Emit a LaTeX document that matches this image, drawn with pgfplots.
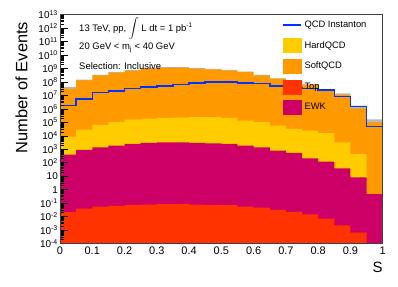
\documentclass[border=0pt]{standalone}
\usepackage{fontspec}
\setmainfont{Liberation Sans}
\usepackage{pgfplots}
\usepackage{pgfplotstable}
\pgfplotsset{compat=1.18}
\usepgfplotslibrary{fillbetween}

\definecolor{cSoft}{RGB}{255,153,0}
\definecolor{cHard}{RGB}{255,204,0}
\definecolor{cTop}{RGB}{255,51,0}
\definecolor{cEWK}{RGB}{204,0,102}
\definecolor{cInst}{RGB}{0,51,255}

% cumulative stack boundaries (soft = total), band = uncertainty on total
\pgfplotstableread{
x    inst     soft     hard    ewk    top      up       lo
0.00 1.795e6  3.162e7  8710    395    0.0220   4.27e7   2.34e7
0.05 5.675e6  1.315e8  29040   887    0.0395   1.51e8   1.145e8
0.10 1.589e7  3.112e8  65010   1409   0.0557   3.33e8   2.90e8
0.15 2.128e7  4.943e8  108900  1858   0.0618   5.30e8   4.61e8
0.20 3.162e7  6.966e8  161800  2489   0.0735   7.46e8   6.50e8
0.25 4.236e7  9.840e8  192300  2951   0.0787   1.054e9  9.18e8
0.30 5.023e7  1.167e9  216800  3327   0.0828   1.250e9  1.089e9
0.35 6.295e7  1.167e9  228000  3327   0.0828   1.250e9  1.089e9
0.40 8.414e7  9.840e8  244300  2951   0.0787   1.054e9  9.18e8
0.45 1.0e8    8.710e8  244300  2805   0.0735   9.33e8   8.13e8
0.50 1.0e8    7.345e8  216800  2489   0.0697   7.87e8   6.85e8
0.55 8.414e7  5.572e8  136100  1858   0.0557   5.97e8   5.20e8
0.60 7.464e7  3.112e8  103500  1409   0.0470   3.33e8   2.90e8
0.65 5.023e7  1.762e8  57680   787    0.0311   1.888e8  1.644e8
0.70 3.758e7  1.250e8  32730   530    0.0220   1.340e8  1.167e8
0.75 3.162e7  6.295e7  24430   213    0.0149   6.75e7   5.87e7
0.80 2.443e7  2.360e7  15630   119    0.0071   2.53e7   2.20e7
0.85 8.279e6  1.127e7  3327    38.2   0.00224  1.419e7  8.95e6
0.90 1.486e6  1.109e6  445.6   8.13   0.00064  1.758e6  7.00e5
0.95 5.02e4   1.0e5    0.47    0.461  1e-5     1.66e5   6.03e4
1.00 5.02e4   1.0e5    0.47    0.461  1e-5     1.66e5   6.03e4
}\data

\begin{document}
\begin{tikzpicture}
\begin{axis}[
  scale only axis, width=322.7bp, height=228.8bp,
  ymode=log, ymin=1e-4, ymax=1e13, xmin=0, xmax=1,
  log origin y=infty,
  axis on top,
  axis line style={draw=black!75, line width=0.5bp},
  xtick={0,0.1,0.2,0.3,0.4,0.5,0.6,0.7,0.8,0.9,1},
  xticklabels={0,0.1,0.2,0.3,0.4,0.5,0.6,0.7,0.8,0.9,1},
  xtick pos=bottom, xtick style={draw=none},
  ytickten={-4,...,13},
  yticklabels={10\textsuperscript{-4},10\textsuperscript{-3},10\textsuperscript{-2},10\textsuperscript{-1},1,10,10\textsuperscript{2},10\textsuperscript{3},10\textsuperscript{4},10\textsuperscript{5},10\textsuperscript{6},10\textsuperscript{7},10\textsuperscript{8},10\textsuperscript{9},10\textsuperscript{10},10\textsuperscript{11},10\textsuperscript{12},10\textsuperscript{13}},
  ytick pos=left,
  ytick style={black, line width=0.5bp},
  major tick length=8bp, minor tick length=4bp,
  x tick label style={font=\fontsize{11}{12}\selectfont},
  y tick label style={font=\fontsize{10}{12}\selectfont, inner sep=2bp},
  xlabel={S}, ylabel={Number of Events},
  xlabel style={font=\fontsize{15}{16}\selectfont, at={(axis description cs:1,-0.08)}, anchor=north east, inner sep=0pt},
  ylabel style={font=\fontsize{16.5}{18}\selectfont, at={(axis description cs:-0.10,0.97)}, anchor=south east, inner sep=0pt},
  legend style={at={(axis description cs:0.688,0.986)}, anchor=north west, draw=none, fill=none,
    inner sep=0pt, outer sep=0pt, row sep=6.3bp, column sep=3bp,
    font=\fontsize{9.4}{11}\selectfont, nodes={inner sep=0pt, outer sep=0pt}},
  legend cell align=left,
]
\addplot[const plot, fill=cSoft, draw=none, forget plot] table[x=x,y=soft]{\data} \closedcycle;
\addplot[const plot, fill=cHard, draw=none, forget plot] table[x=x,y=hard]{\data} \closedcycle;
\addplot[const plot, fill=cEWK, draw=none, forget plot] table[x=x,y=ewk]{\data} \closedcycle;
\addplot[const plot, fill=cTop, draw=none, forget plot] table[x=x,y=top]{\data} \closedcycle;

\addplot[const plot, draw=none, name path=up, forget plot] table[x=x,y=up]{\data};
\addplot[const plot, draw=none, name path=lo, forget plot] table[x=x,y=lo]{\data};
\addplot[fill=black!70, fill opacity=0.4, draw=none, forget plot] fill between[of=up and lo];

\addplot[const plot, draw=cInst, line width=1.5bp, forget plot] table[x=x,y=inst]{\data};

\addlegendimage{legend image code/.code={\path[draw=none,fill=none] (0bp,-7bp) rectangle (18bp,7bp); \draw[cInst, line width=1.5bp] (0bp,0bp) -- (18bp,0bp);}}
\addlegendentry{QCD Instanton}
\addlegendimage{legend image code/.code={\fill[cHard] (0bp,-7bp) rectangle (18bp,7bp);}}
\addlegendentry{HardQCD}
\addlegendimage{legend image code/.code={\fill[cSoft] (0bp,-7bp) rectangle (18bp,7bp);}}
\addlegendentry{SoftQCD}
\addlegendimage{legend image code/.code={\fill[cTop] (0bp,-7bp) rectangle (18bp,7bp);}}
\addlegendentry{Top}
\addlegendimage{legend image code/.code={\fill[cEWK] (0bp,-7bp) rectangle (18bp,7bp);}}
\addlegendentry{EWK}

\node[anchor=west, inner sep=0pt, font=\fontsize{9.5}{11}\selectfont] at (axis description cs:0.059,0.9375) {13 TeV, pp, $\displaystyle\int$ L dt = 1 pb\textsuperscript{-1}};
\node[anchor=west, inner sep=0pt, font=\fontsize{9.5}{11}\selectfont] at (axis description cs:0.059,0.854) {20 GeV < m\textsubscript{j} < 40 GeV};
\node[anchor=west, inner sep=0pt, font=\fontsize{9.5}{11}\selectfont] at (axis description cs:0.059,0.776) {Selection: Inclusive};
\end{axis}
\pgfresetboundingbox
\path[use as bounding box] ([shift={(-60bp,-43.5bp)}]current axis.south west) rectangle ([shift={(15.3bp,14.7bp)}]current axis.north east);
\end{tikzpicture}
\end{document}
